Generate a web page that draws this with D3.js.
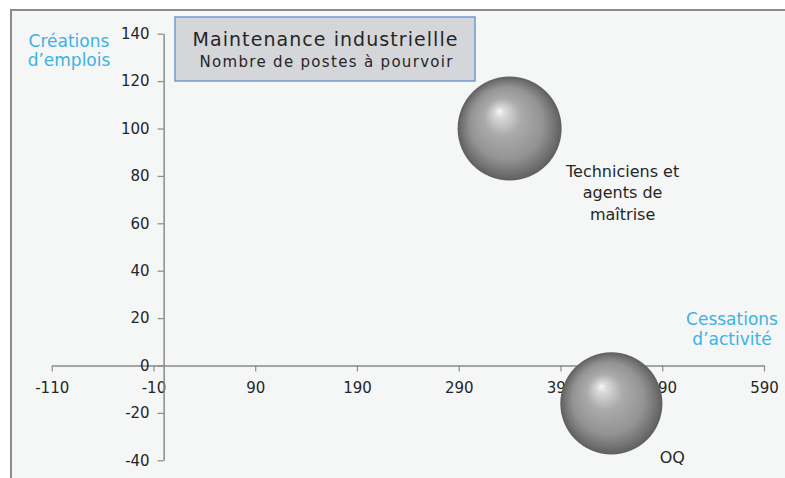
<!DOCTYPE html>
<html>
<head>
<meta charset="utf-8">
<script src="https://cdn.jsdelivr.net/npm/d3@7"></script>
<style>
  body { margin: 0; background: #fff; }
  text { font-family: "DejaVu Sans", sans-serif; }
</style>
</head>
<body>
<svg id="mainsvg" width="785" height="478"></svg>
<script>
// data
var categories = ['Techniciens et agents de maîtrise', 'OQ'];
var cessations = [340, 440];   // x : cessations d'activité
var creations = [100, -16];    // y : créations d'emplois
var postes = [440, 424];       // bubble size : postes à pourvoir
var labelLines = [['Techniciens et', 'agents de', 'maîtrise'], ['OQ']];
var xTicks = [-110, -10, 90, 190, 290, 390, 490, 590];
var yTicks = [-40, -20, 0, 20, 40, 60, 80, 100, 120, 140];

var svg = d3.select('#mainsvg');

// frame + plot background
svg.append('rect')
    .attr('x', 11).attr('y', 10)
    .attr('width', 800).attr('height', 500)
    .attr('fill', '#f5f6f6')
    .attr('stroke', '#8c8c8e')
    .attr('stroke-width', 2);

var x = d3.scaleLinear().domain([-110, 590]).range([51.7, 764]);
var y = d3.scaleLinear().domain([-40, 140]).range([460.3, 33.7]);
var r = d3.scaleSqrt().domain([0, 440]).range([0, 52]);

var defs = svg.append('defs');
var grad = defs.append('radialGradient')
    .attr('id', 'sphere')
    .attr('cx', '50%').attr('cy', '50%').attr('r', '50%')
    .attr('fx', '40%').attr('fy', '33%');
[[0, '#f8f8f8'], [0.1, '#dadada'], [0.35, '#ababab'], [0.7, '#939393'], [0.9, '#717171'], [1, '#5e5e5e']]
    .forEach(function (s) {
        grad.append('stop').attr('offset', s[0]).attr('stop-color', s[1]);
    });

// axes crossing at the origin
var axisColor = '#8a8a8a';
var fmt = d => String(d);

var xAxis = svg.append('g')
    .attr('transform', 'translate(0,' + y(0) + ')')
    .call(d3.axisBottom(x).tickValues(xTicks).tickFormat(fmt).tickSize(6).tickSizeOuter(0).tickPadding(7));

var yAxis = svg.append('g')
    .attr('transform', 'translate(' + x(0) + ',0)')
    .call(d3.axisLeft(y).tickValues(yTicks).tickFormat(fmt).tickSize(6).tickSizeOuter(0).tickPadding(8));

[xAxis, yAxis].forEach(function (a) {
    a.select('.domain').attr('stroke', axisColor).attr('stroke-width', 1.5);
    a.selectAll('.tick line').attr('stroke', axisColor).attr('stroke-width', 1.2);
    a.selectAll('.tick text')
        .attr('fill', '#262626')
        .style('font-family', '"DejaVu Sans", sans-serif')
        .style('font-size', '15px');
});
xAxis.selectAll('.tick text').attr('dy', '0.95em');

// axis titles
var blue = '#3cb2e6';
svg.append('text').attr('x', 69).attr('y', 47).attr('text-anchor', 'middle')
    .attr('fill', blue).style('font-size', '17px').text('Créations');
svg.append('text').attr('x', 69).attr('y', 66).attr('text-anchor', 'middle')
    .attr('fill', blue).style('font-size', '17px').text('d\u2019emplois');
svg.append('text').attr('x', 732).attr('y', 325).attr('text-anchor', 'middle')
    .attr('fill', blue).style('font-size', '17px').text('Cessations');
svg.append('text').attr('x', 732).attr('y', 345).attr('text-anchor', 'middle')
    .attr('fill', blue).style('font-size', '17px').text('d\u2019activité');

// bubbles
var data = categories.map(function (c, i) {
    return { name: c, x: cessations[i], y: creations[i], size: postes[i], lines: labelLines[i] };
});

svg.append('g').selectAll('circle')
    .data(data)
    .enter()
    .append('circle')
    .attr('cx', d => x(d.x))
    .attr('cy', d => y(d.y))
    .attr('r', d => r(d.size))
    .attr('fill', 'url(#sphere)');

// data labels (offsets from bubble centre)
var labelOffset = [{ dx: 113, dy: 48 }, { dx: 61, dy: 60 }];
var labels = svg.append('g').selectAll('text')
    .data(data)
    .enter()
    .append('text')
    .attr('text-anchor', 'middle')
    .attr('fill', '#262626')
    .style('font-size', '16px')
    .attr('transform', (d, i) => 'translate(' + (x(d.x) + labelOffset[i].dx) + ',' + (y(d.y) + labelOffset[i].dy) + ')');
labels.selectAll('tspan')
    .data(d => d.lines)
    .enter()
    .append('tspan')
    .attr('x', 0)
    .attr('y', (d, i) => i * 21.5)
    .text(d => d);

// title box
svg.append('rect')
    .attr('x', 175).attr('y', 17)
    .attr('width', 300).attr('height', 64)
    .attr('fill', '#d5d6d9')
    .attr('stroke', '#6f9ad3')
    .attr('stroke-width', 1.5);
svg.append('text').attr('x', 325).attr('y', 46).attr('text-anchor', 'middle')
    .attr('fill', '#262626').style('font-size', '19px')
    .attr('textLength', 265).attr('lengthAdjust', 'spacing')
    .text('Maintenance  industriellle');
svg.append('text').attr('x', 326).attr('y', 66.5).attr('text-anchor', 'middle')
    .attr('fill', '#262626').style('font-size', '15px')
    .attr('textLength', 253).attr('lengthAdjust', 'spacing')
    .text('Nombre de postes à pourvoir');
</script>
</body>
</html>
